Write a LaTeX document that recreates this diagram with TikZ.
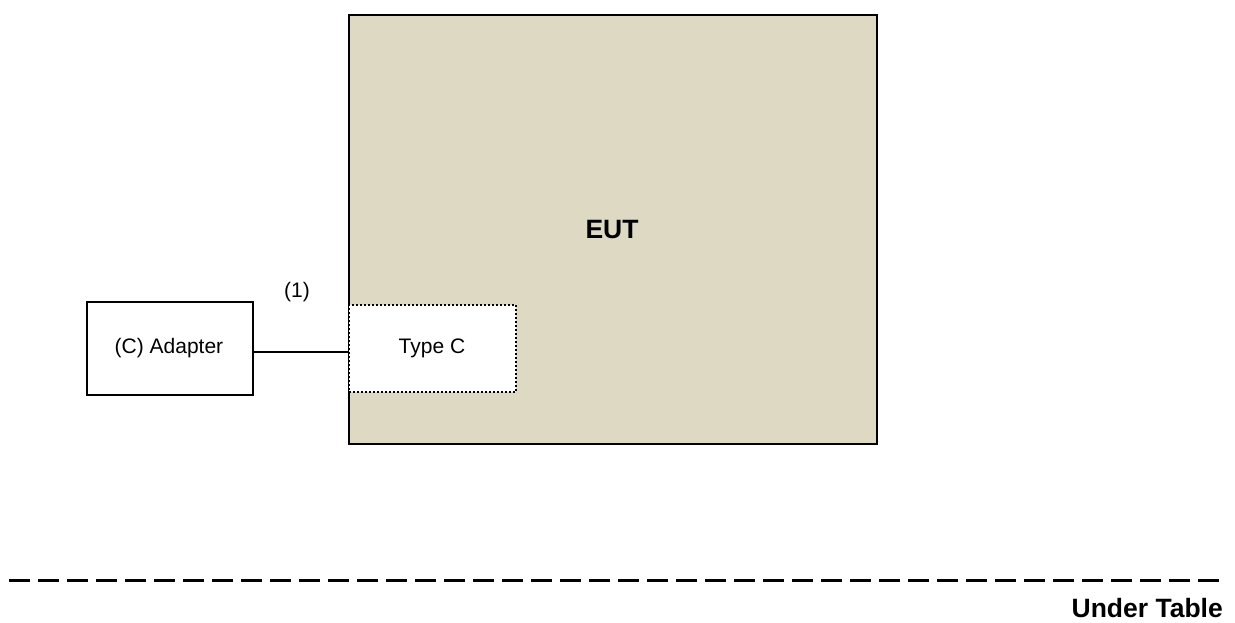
\documentclass[tikz,border=0pt]{standalone}
\usepackage{fontspec}
\setmainfont{Liberation Sans}
\definecolor{eutfill}{HTML}{DDD9C3}
\begin{document}
\begin{tikzpicture}[x=1pt,y=-1pt,
  box/.style={draw=black,line width=2pt,inner sep=0pt},
  lbl/.style={font=\fontsize{21}{24}\selectfont,inner sep=0pt},
  blbl/.style={font=\fontsize{26.5}{30}\selectfont\bfseries,inner sep=0pt}]
\useasboundingbox (0,0) rectangle (1235,623);
\node[box,fill=eutfill,minimum width=528pt,minimum height=429pt,anchor=north west] (eut) at (348,14) {};
\node[blbl] (euttxt) at (612,230) {EUT};
\node[draw=black,line width=2pt,dash pattern=on 1.6pt off 2.4pt,fill=white,minimum width=167pt,minimum height=87pt,anchor=north west,inner sep=0pt] (typec) at (348,304) {};
\node[lbl] (typectxt) at (432,348) {Type C};
\node[box,fill=white,minimum width=166pt,minimum height=93pt,anchor=north west] (adapter) at (86,301) {};
\node[lbl] (adaptertxt) at (169,348) {(C) Adapter};
\coordinate (tcl) at (348,352);
\draw[line width=1.4pt] (adapter.east |- tcl) -- (tcl);
\node[lbl] (one) at (297,292) {(1)};
\coordinate (dl) at (9,580.5);
\coordinate (dr) at (1224,580.5);
\draw[line width=3pt,dash pattern=on 21pt off 8pt] (dl) -- (dr);
\node[blbl,anchor=east] (under) at (1223,608) {Under Table};
\end{tikzpicture}
\end{document}
